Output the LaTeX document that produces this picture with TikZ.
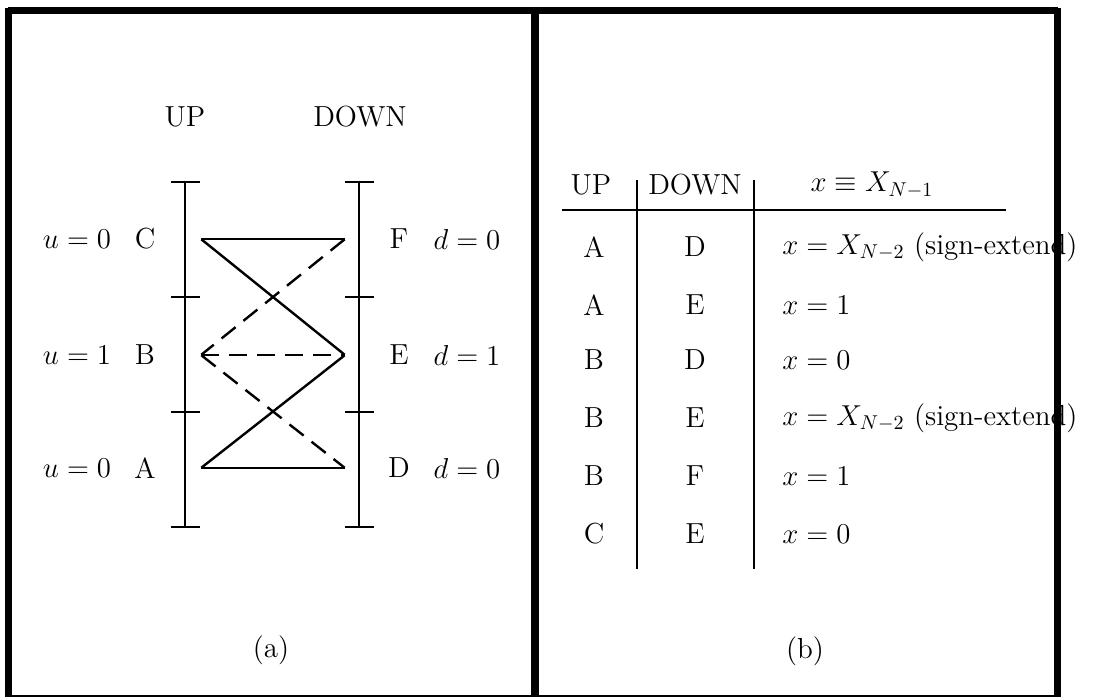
\documentclass[tikz,border=0pt]{standalone}
\begin{document}
\begin{tikzpicture}[x=0.5pt,y=-0.5pt,
  lbl/.style={font=\fontsize{14.5}{17}\selectfont, inner sep=0pt, anchor=center},
  lblw/.style={font=\fontsize{14.5}{17}\selectfont, inner sep=0pt, anchor=west},
  endp/.style={inner sep=0pt, minimum size=0pt},
  axis/.style={line width=1.2pt},
  tick/.style={line width=1.4pt},
  link/.style={line width=1.2pt},
  dlink/.style={line width=1.2pt, dash pattern=on 9pt off 5pt},
  thick frame/.style={line width=3.5pt},
  thin frame/.style={line width=1pt}]
\useasboundingbox (0,0) rectangle (1096,698);
% frame
\draw[thick frame] (8,10) -- (1058,10);
\draw[thick frame] (8,8) -- (8,697);
\draw[line width=4pt] (535,8) -- (535,697);
\draw[thick frame] (1057,8) -- (1057,697);
\draw[thin frame] (8,696) -- (1057,696);
% ---------- panel (a)
\node[lbl] (up) at (185,117) {UP};
\node[lbl] (down) at (360,117) {DOWN};
\draw[axis] (185,182) -- (185,527);
\draw[axis] (359,182) -- (359,527);
\foreach \y in {182,297,412,527}{
  \draw[tick] (171,\y) -- (200,\y);
  \draw[tick] (345,\y) -- (374,\y);
}
\node[lbl] (uC) at (77,239) {$u=0$};
\node[lbl] (C) at (145,239) {C};
\node[lbl] (uB) at (77,355) {$u=1$};
\node[lbl] (B) at (145,355) {B};
\node[lbl] (uA) at (77,468) {$u=0$};
\node[lbl] (A) at (145,468) {A};
\node[lbl] (F) at (399,239) {F};
\node[lbl] (dF) at (467,239) {$d=0$};
\node[lbl] (E) at (399,355) {E};
\node[lbl] (dE) at (467,355) {$d=1$};
\node[lbl] (D) at (399,468) {D};
\node[lbl] (dD) at (467,468) {$d=0$};
\node[endp] (pC) at (201,239) {};
\node[endp] (pB) at (201,355) {};
\node[endp] (pA) at (201,468) {};
\node[endp] (pF) at (345,239) {};
\node[endp] (pE) at (345,355) {};
\node[endp] (pD) at (345,468) {};
\draw[link] (pC) -- (pF);
\draw[link] (pC) -- (pE);
\draw[link] (pA) -- (pE);
\draw[link] (pA) -- (pD);
\draw[dlink] (pF) -- (pB);
\draw[dlink] (pB) -- (pE);
\draw[dlink] (pB) -- (pD);
\node[lbl] (capa) at (271,650) {(a)};
% ---------- panel (b)
\node[lbl] (hup) at (591,185) {UP};
\node[lbl] (hdown) at (695,185) {DOWN};
\node[lbl] (hx) at (872,185) {$x\equiv X_{N-1}$};
\draw[line width=1.2pt] (562,210) -- (1006,210);
\draw[axis] (637,180) -- (637,569);
\draw[axis] (754,180) -- (754,569);
\node[lbl] (r1a) at (594,247) {A};
\node[lbl] (r1b) at (695,247) {D};
\node[lblw] (r1c) at (782,247) {$x=X_{N-2}$ (sign-extend)};
\node[lbl] (r2a) at (594,305) {A};
\node[lbl] (r2b) at (695,305) {E};
\node[lblw] (r2c) at (782,305) {$x=1$};
\node[lbl] (r3a) at (594,360) {B};
\node[lbl] (r3b) at (695,360) {D};
\node[lblw] (r3c) at (782,360) {$x=0$};
\node[lbl] (r4a) at (594,418) {B};
\node[lbl] (r4b) at (695,418) {E};
\node[lblw] (r4c) at (782,418) {$x=X_{N-2}$ (sign-extend)};
\node[lbl] (r5a) at (594,476) {B};
\node[lbl] (r5b) at (695,476) {F};
\node[lblw] (r5c) at (782,476) {$x=1$};
\node[lbl] (r6a) at (594,534) {C};
\node[lbl] (r6b) at (695,534) {E};
\node[lblw] (r6c) at (782,534) {$x=0$};
\node[lbl] (capb) at (805,651) {(b)};
\end{tikzpicture}
\end{document}
